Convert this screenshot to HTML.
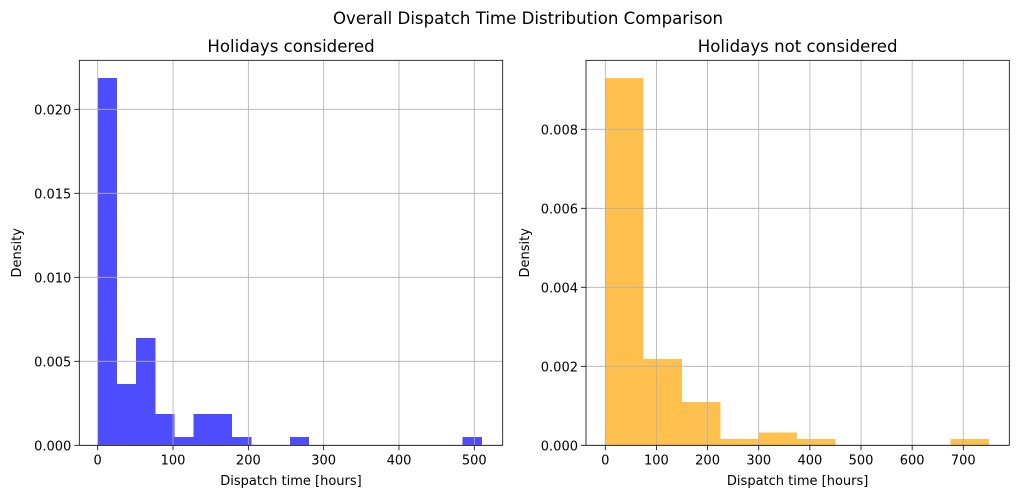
<!DOCTYPE html>
<html><head><meta charset="utf-8"><style>
html,body{margin:0;padding:0;background:#fff;}
svg{display:block;font-family:"DejaVu Sans","Liberation Sans",sans-serif;}
</style></head><body>
<svg id="chart" width="1018" height="498" xmlns="http://www.w3.org/2000/svg">
<text x="528" y="24" text-anchor="middle" font-size="16.6">Overall Dispatch Time Distribution Comparison</text>
</svg>
<script>
// Left panel data
const leftBinWidth = 25.5;
const leftDensity = [0.02186,0.00365,0.00639,0.00186,0.00049,0.00186,0.00186,0.00049,0,0,0.00049,0,0,0,0,0,0,0,0,0.00049];
const leftYTicks = [0,0.005,0.010,0.015,0.020];
const leftYLabels = ["0.000","0.005","0.010","0.015","0.020"];
const leftXTicks = [0,100,200,300,400,500];
// Right panel data
const rightBinWidth = 75;
const rightDensity = [0.0093,0.00218,0.00110,0.00016,0.00032,0.00016,0,0,0,0.00016];
const rightYTicks = [0,0.002,0.004,0.006,0.008];
const rightYLabels = ["0.000","0.002","0.004","0.006","0.008"];
const rightXTicks = [0,100,200,300,400,500,600,700];

const NS="http://www.w3.org/2000/svg";
const svg=document.getElementById('chart');
function mk(tag,attrs,parent){const e=document.createElementNS(NS,tag);for(const k in attrs)e.setAttribute(k,attrs[k]);(parent||svg).appendChild(e);return e;}

function panel(o){
  const g=mk('g',{});
  
  
  const X=v=>o.x0+(v-o.xmin)*(o.x1-o.x0)/(o.xmax-o.xmin);
  const Y=v=>o.y0-(v-o.ymin)*(o.y0-o.y1)/(o.ymax-o.ymin);
  o.density.forEach((d,i)=>{
    if(d<=0)return;
    const a=X(i*o.bw),b=X((i+1)*o.bw);
    const r=mk('rect',{x:a,y:Y(d),width:b-a,height:Y(0)-Y(d),fill:o.color,'shape-rendering':'crispEdges'},g);
    
    
  });
  o.xt.forEach(t=>{
    const l=mk('line',{x1:X(t),x2:X(t),y1:o.y1,y2:o.y0,stroke:'#b0b0b0','stroke-width':0.8},g);
    
    
    mk('line',{x1:X(t),x2:X(t),y1:o.y0,y2:o.y0+5,stroke:'#000','stroke-width':0.8},g);
    const tx=mk('text',{x:X(t),y:o.y0+19,'text-anchor':'middle','font-size':13},g);
    tx.textContent=t;
    
    
  });
  o.yt.forEach((t,i)=>{
    const l=mk('line',{x1:o.x0,x2:o.x1,y1:Y(t),y2:Y(t),stroke:'#b0b0b0','stroke-width':0.8},g);
    
    
    mk('line',{x1:o.x0-5,x2:o.x0,y1:Y(t),y2:Y(t),stroke:'#000','stroke-width':0.8},g);
    const tx=mk('text',{x:o.x0-8,y:Y(t)+5,'text-anchor':'end','font-size':13},g);
    tx.textContent=o.yl[i];
    
    
  });
  const fr=mk('rect',{x:o.x0,y:o.y1,width:o.x1-o.x0,height:o.y0-o.y1,fill:'none',stroke:'#000','stroke-width':0.8},g);
  
  
  const ti=mk('text',{x:(o.x0+o.x1)/2,y:52,'text-anchor':'middle','font-size':16.6},g);
  ti.textContent=o.title;
  
  
  const xl=mk('text',{x:(o.x0+o.x1)/2,y:485,'text-anchor':'middle','font-size':13},g);
  xl.textContent='Dispatch time [hours]';
  
  
  const yl=mk('text',{x:o.ylx,y:(o.y0+o.y1)/2,'text-anchor':'middle','font-size':13,transform:`rotate(-90 ${o.ylx} ${(o.y0+o.y1)/2})`},g);
  yl.textContent='Density';
  
  
}
const lk=(474.3-97.7)/500;
panel({name:'holidays-considered-panel',title:'Holidays considered',x0:79.3,x1:502.7,y0:445.3,y1:60.3,
  xmin:-(97.7-79.3)/lk,xmax:(502.7-97.7)/lk,ymin:0,ymax:(445.3-60.3)/16800,
  density:leftDensity,bw:leftBinWidth,xt:leftXTicks,yt:leftYTicks,yl:leftYLabels,color:'#4d4dff',ylx:21});
const rk=(963.3-605.3)/700;
panel({name:'holidays-not-considered-panel',title:'Holidays not considered',x0:586,x1:1009.3,y0:445.3,y1:60.3,
  xmin:-(605.3-586)/rk,xmax:(1009.3-605.3)/rk,ymin:0,ymax:(445.3-60.3)/39500,
  density:rightDensity,bw:rightBinWidth,xt:rightXTicks,yt:rightYTicks,yl:rightYLabels,color:'#ffc04d',ylx:529});
</script>
</body></html>
